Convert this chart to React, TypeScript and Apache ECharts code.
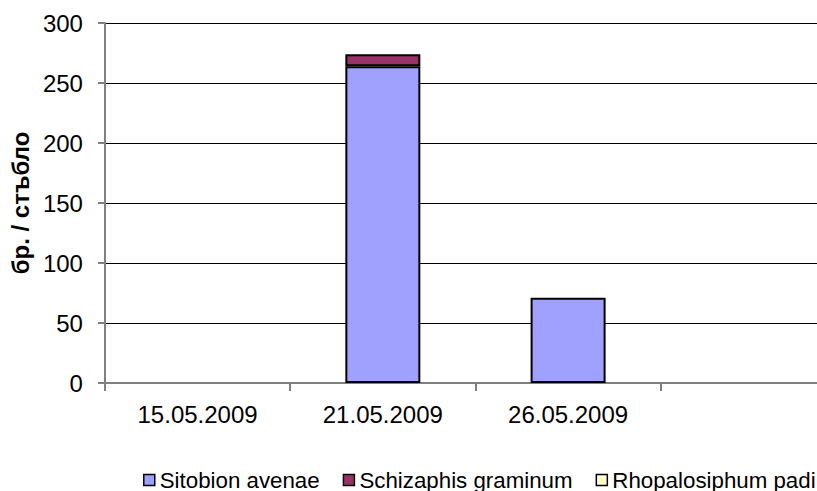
import React, { useEffect, useRef } from "react";
import * as echarts from "echarts";

const categories = ["15.05.2009", "21.05.2009", "26.05.2009", ""];
const seriesNames = ["Sitobion avenae", "Schizaphis graminum", "Rhopalosiphum padi"];
const sitobion = [0, 264, 71];
const schizaphis = [0, 10, 0];
const rhopalosiphum = [0, 0, 0];
const seriesColors = ["#A0A0FF", "#993366", "#FFFFCC"];
const yTicks = { min: 0, max: 300, interval: 50 };
const yAxisName = "бр. / стъбло";

const FONT = "'Liberation Sans', Arial, sans-serif";

export default function App() {
  const ref = useRef<HTMLDivElement>(null);
  useEffect(() => {
    if (!ref.current) return;
    const chart = echarts.init(ref.current, null, { renderer: "svg" });
    const values = [sitobion, schizaphis, rhopalosiphum];
    chart.setOption({
      animation: false,
      backgroundColor: "#ffffff",
      grid: { left: 104, top: 23, height: 360, right: 4, containLabel: false },
      legend: {
        left: 138,
        top: 464,
        itemWidth: 11,
        itemHeight: 11,
        itemGap: 23,
        icon: "rect",
        textStyle: { fontFamily: FONT, fontSize: 22.3, color: "#000" },
        itemStyle: { borderColor: "#000", borderWidth: 1.5 },
        data: seriesNames,
      },
      xAxis: {
        type: "category",
        data: categories,
        axisLine: { lineStyle: { color: "#808080", width: 2 } },
        axisTick: { show: true, length: 8, lineStyle: { color: "#808080", width: 2 } },
        axisLabel: { fontFamily: FONT, fontSize: 24, color: "#000", margin: 19, interval: 0 },
        splitLine: { show: false },
      },
      yAxis: {
        type: "value",
        min: yTicks.min,
        max: yTicks.max,
        interval: yTicks.interval,
        name: yAxisName,
        nameLocation: "middle",
        nameGap: 66,
        nameRotate: 90,
        nameTextStyle: { fontFamily: FONT, fontSize: 24, fontWeight: "bold", color: "#000" },
        axisLine: { show: true, lineStyle: { color: "#808080", width: 2 } },
        axisTick: { show: true, length: 7, lineStyle: { color: "#808080", width: 2 } },
        axisLabel: { fontFamily: FONT, fontSize: 24, color: "#000", margin: 22 },
        splitLine: { show: true, lineStyle: { color: "#000", width: 1 } },
      },
      series: seriesNames.map((name, i) => ({
        name,
        type: "bar",
        stack: "total",
        barWidth: 75,
        data: values[i].map((v) => (v === 0 ? "-" : v)),
        itemStyle: { color: seriesColors[i], borderColor: "#000", borderWidth: 2 },
      })),
    });
    return () => chart.dispose();
  }, []);
  return (
    <div
      style={{ position: "absolute", left: 0, top: 0, width: 817, height: 491, overflow: "hidden", background: "#fff" }}
    >
      <div ref={ref} style={{ width: 850, height: 491 }} />
    </div>
  );
}
